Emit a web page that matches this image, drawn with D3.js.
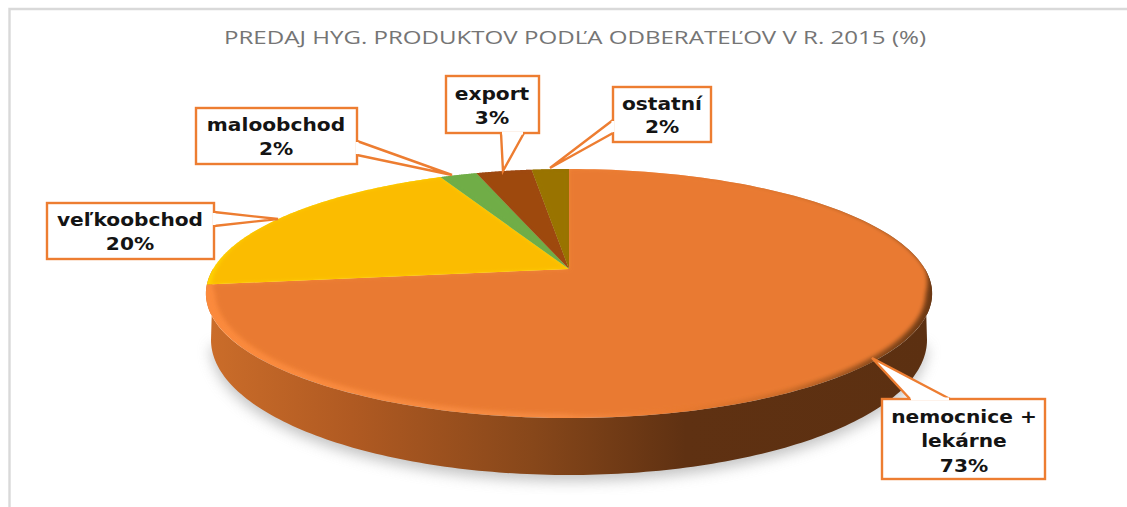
<!DOCTYPE html>
<html><head><meta charset="utf-8">
<script src="https://cdn.jsdelivr.net/npm/d3@7/dist/d3.min.js"></script>
<style>html,body{margin:0;padding:0;background:#fff}svg{display:block}</style>
</head><body><svg id="c" width="1127" height="507"></svg>
<script>
const titleText = "PREDAJ HYG. PRODUKTOV PODĽA ODBERATEĽOV V R. 2015 (%)";
const categories = ["nemocnice + lekárne", "veľkoobchod", "maloobchod", "export", "ostatní"];
const values = [73, 20, 2, 3, 2];
const colors = ["#e97a30", "#fbbc00", "#70ad47", "#9e480e", "#997300"];
const labelLines = [["nemocnice +", "lekárne"], ["veľkoobchod"], ["maloobchod"], ["export"], ["ostatní"]];

// callout layout: box, pointer tip, pointer base on box, text centre & baselines
const callouts = [
  {box:[882,399,1045,479], ptr:[[910,399],[872,358],[950,399]], tx:964, ys:[423,447,472]},
  {box:[47,203,214,259], ptr:[[214,212],[278,219],[214,226]], tx:130, ys:[226,250]},
  {box:[196,108,357,164], ptr:[[357,141],[452,175],[357,155]], tx:276, ys:[131,155]},
  {box:[446,76,539,133], ptr:[[524,133],[503,171],[501,133]], tx:492, ys:[100,124]},
  {box:[613,87,711,142], ptr:[[613,120],[550,168],[613,133]], tx:662, ys:[110,133]}
];

const svg = d3.select("#c");
const defs = svg.append("defs");
const cx = 569, cy = 269, R = 356, A = 119.7, k = 0.197;
const project = (t, r = 1) => {
  const u = r * Math.sin(t), v = -r * Math.cos(t), s = 1 / (1 - k * v);
  return [cx + R * u * s, cy + A * v * s];
};
const base = {cy: 340, rx: 358, ry: 135};
const baseAt = t => [cx + base.rx * Math.sin(t), base.cy - base.ry * Math.cos(t)];
const line = d3.line();
const steps = (a, b, n = 160) => d3.range(n + 1).map(i => a + (b - a) * i / n);

// frame
svg.append("path").attr("d", "M9.5,507V9H1127").attr("fill", "none").attr("stroke", "#d9d9d9").attr("stroke-width", 2.4);

// title
svg.append("text").attr("x", 224).attr("y", 44).attr("font-family", "'Open Sans'").attr("font-size", 19)
  .attr("fill", "#757575")
  .attr("textLength", 702).attr("lengthAdjust", "spacingAndGlyphs").text(titleText);

// filters + gradients
const blur = (id, d) => defs.append("filter").attr("id", id).attr("x", "-10%").attr("y", "-10%").attr("width", "120%").attr("height", "120%")
  .append("feGaussianBlur").attr("stdDeviation", d);
blur("shadow", 7); blur("soft", 2);
const grad = (id, stops) => {
  const g = defs.append("linearGradient").attr("id", id).attr("gradientUnits", "userSpaceOnUse")
    .attr("x1", 206).attr("x2", 933).attr("y1", 0).attr("y2", 0);
  stops.forEach(([o, c]) => g.append("stop").attr("offset", o).attr("stop-color", c));
};
grad("wall", [[0, "#cb6d2a"], [0.2, "#b05a22"], [0.45, "#87471a"], [0.66, "#5f3112"], [1, "#5c3011"]]);
grad("rim", [[0, "#fb8a3d"], [0.5, "#f58a42"], [0.65, "#e97a30"], [0.8, "#c96a28"], [0.92, "#8a4a1c"], [1, "#6a3814"]]);

// shadow
const frontT = steps(Math.PI * 0.5, Math.PI * 1.5);
svg.append("path").attr("d", line(frontT.map(baseAt).map(([x, y]) => [x, y + 6])) + "Z")
  .attr("fill", "#9a9a9a").attr("opacity", 0.6).attr("filter", "url(#shadow)");

// wall
svg.append("path").attr("d", line(frontT.map(t => project(t)).concat(frontT.slice().reverse().map(baseAt))) + "Z")
  .attr("fill", "url(#wall)");

// slices
const arcs = d3.pie().sort(null)(values);
const inset = (t, amt) => {
  const v = -Math.cos(t);
  const w = Math.max(0, Math.min(1, (v - 0.0) / 0.2));
  return 1 - (Math.sin(t) > 0 ? amt * 0.7 : amt) * w;
};
const sector = (d, rf) => {
  const pts = steps(d.startAngle, d.endAngle).map(t => project(t, rf ? rf(t) : 1));
  return line([[cx, cy], ...pts]) + "Z";
};
const g = svg.append("g");
arcs.forEach((d, i) => {
  defs.append("clipPath").attr("id", "cl" + i).append("path").attr("d", sector(d));
  const rimFill = i === 0 ? "url(#rim)" : i === 1 ? "#ffd400" : colors[i];
  g.append("path").attr("d", sector(d)).attr("fill", rimFill);
  g.append("g").attr("clip-path", `url(#cl${i})`).append("path")
    .attr("d", sector(d, t => i === 1 ? 1 - 0.012 * Math.max(0, Math.min(1, (-Math.cos(t) + 0.3) / 0.4)) : inset(t, 0.026)))
    .attr("fill", colors[i]).attr("filter", "url(#soft)")
    .attr("stroke", colors[i]).attr("stroke-width", 1);
});

// callouts
const cg = svg.append("g");
callouts.forEach((c, i) => {
  const [x0, y0, x1, y1] = c.box;
  cg.append("rect").attr("x", x0).attr("y", y0).attr("width", x1 - x0).attr("height", y1 - y0)
    .attr("fill", "#fff").attr("stroke", "#ed7d31").attr("stroke-width", 2.4);
  cg.append("path").attr("d", line(c.ptr)).attr("fill", "#fff").attr("stroke", "#ed7d31").attr("stroke-width", 2.4).attr("stroke-linejoin", "miter");
  const [a, b] = [c.ptr[0], c.ptr[2]];
  const horiz = a[1] === b[1];
  cg.append("line").attr("x1", a[0] + (horiz ? (a[0] < b[0] ? 1 : -1) : 0)).attr("y1", a[1] + (horiz ? 0 : 1))
    .attr("x2", b[0] + (horiz ? (a[0] < b[0] ? -1 : 1) : 0)).attr("y2", b[1] - (horiz ? 0 : 1))
    .attr("stroke", "#fff").attr("stroke-width", 3);
  const lines = labelLines[i].concat(values[i] + "%");
  lines.forEach((t, j) => {
    const el = cg.append("text").attr("x", c.tx).attr("y", c.ys[j]).attr("text-anchor", "middle")
      .attr("font-family", "'DejaVu Sans'").attr("font-weight", "bold").attr("font-size", 18.5).attr("fill", "#141414").text(t);
    el.attr("textLength", el.node().getComputedTextLength() * 1.09).attr("lengthAdjust", "spacingAndGlyphs");
  });
});
</script></body></html>
